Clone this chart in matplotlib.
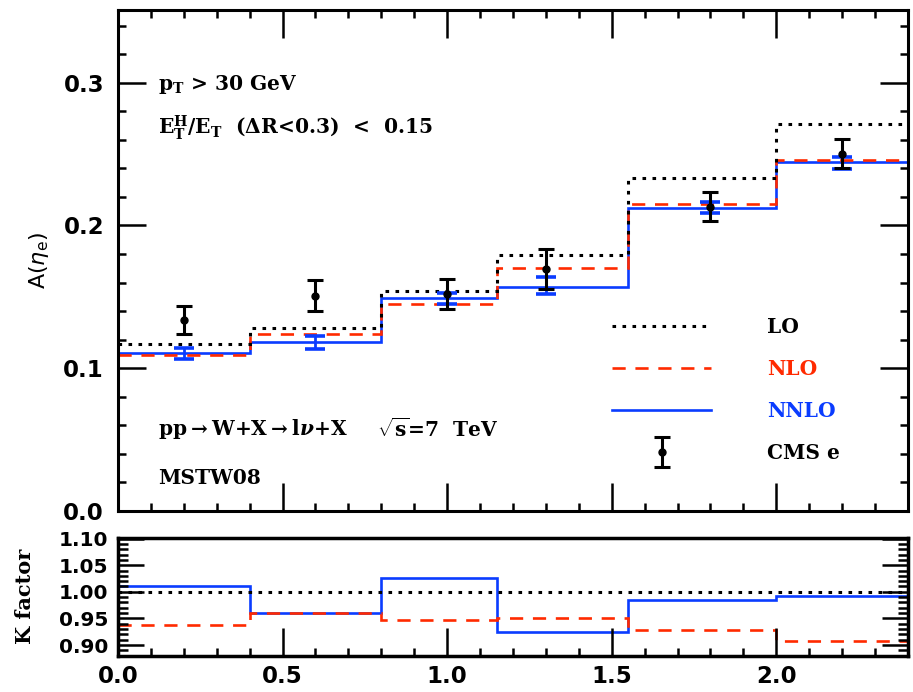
import numpy as np
import matplotlib
matplotlib.use("Agg")
import matplotlib.pyplot as plt
from matplotlib.ticker import MultipleLocator, FormatStrFormatter
from matplotlib.legend_handler import HandlerErrorbar

# eta bins and theory predictions, A(eta_e)
edges = [0.0, 0.4, 0.8, 1.15, 1.55, 2.0, 2.4]
lo = [0.117, 0.1285, 0.1542, 0.1794, 0.2331, 0.271]
nlo = [0.109, 0.1238, 0.1453, 0.170, 0.2151, 0.246]
nnlo = [0.1107, 0.1187, 0.149, 0.1572, 0.2123, 0.2446]

# NNLO uncertainty bars, placed at the data points
nnlo_err_c = [0.1106, 0.1183, 0.1488, 0.1578, 0.2125, 0.2441]
nnlo_err = [0.0039, 0.0046, 0.0040, 0.0060, 0.0039, 0.0042]

# CMS electron asymmetry
cms_x = [0.2, 0.6, 1.0, 1.3, 1.8, 2.2]
cms_y = [0.1338, 0.1509, 0.1521, 0.1694, 0.2133, 0.2502]
cms_err = [0.0100, 0.0108, 0.0107, 0.0140, 0.0100, 0.0101]

# K factors (lower panel)
k_lo = [1.0, 1.0, 1.0, 1.0, 1.0, 1.0]
k_nlo = [0.938, 0.961, 0.947, 0.950, 0.928, 0.9075]
k_nnlo = [1.0107, 0.961, 1.0263, 0.925, 0.9844, 0.993]

red = "#ff2a00"
blue = "#0a3cff"

plt.rcParams["lines.scale_dashes"] = False
plt.rcParams["mathtext.fontset"] = "custom"
plt.rcParams["mathtext.rm"] = "DejaVu Serif:bold"
plt.rcParams["mathtext.it"] = "DejaVu Serif:italic:bold"
plt.rcParams["mathtext.bf"] = "DejaVu Serif:bold"

serif = dict(family="DejaVu Serif", fontweight="bold", fontsize=14.5)

fig = plt.figure(figsize=(9.13, 6.92), dpi=100)
ax = fig.add_axes([0.1292, 0.2616, 0.8653, 0.724])
axk = fig.add_axes([0.1292, 0.0525, 0.8653, 0.170])

lw = 1.9
ax.stairs(nnlo, edges, baseline=None, color=blue, lw=lw, label="NNLO")
ax.stairs(nlo, edges, baseline=None, color=red, lw=lw, linestyle=(0, (9.5, 7)), label="NLO")
ax.stairs(lo, edges, baseline=None, color="black", lw=2.2, linestyle=(0, (2.6, 4.6)), label="LO")
ax.errorbar(cms_x, nnlo_err_c, yerr=nnlo_err, fmt="none", ecolor=blue,
            elinewidth=2.0, capsize=7, capthick=2.6)
cms = ax.errorbar(cms_x, cms_y, yerr=cms_err, fmt="o", color="black", ms=5,
                  elinewidth=2.2, capsize=5.5, capthick=2.2, label="CMS e")

ax.set_xlim(0, 2.4)
ax.set_ylim(0, 0.351)
ax.xaxis.set_major_locator(MultipleLocator(0.5))
ax.xaxis.set_minor_locator(MultipleLocator(0.1))
ax.yaxis.set_major_locator(MultipleLocator(0.1))
ax.yaxis.set_minor_locator(MultipleLocator(0.02))
ax.yaxis.set_major_formatter(FormatStrFormatter("%.1f"))
ax.tick_params(which="both", direction="in", top=True, right=True, width=1.8)
ax.tick_params(which="major", length=20, pad=10)
ax.tick_params(which="minor", length=6)
ax.tick_params(axis="x", labelbottom=False)
ax.tick_params(axis="y", labelsize=16.5)
for lab in ax.get_yticklabels():
    lab.set_fontweight("bold")
for sp in ax.spines.values():
    sp.set_linewidth(2.2)
ax.set_ylabel(r"A($\eta_{\rm e}$)", fontsize=16, labelpad=9, math_fontfamily="dejavusans")

ax.text(0.051, 0.852, r"$\mathrm{p_T}$ > 30 GeV", transform=ax.transAxes, va="center", **serif)
ax.text(0.051, 0.766, r"$\mathrm{E_T^H/E_T}$  ($\Delta$R<0.3)  <  0.15", transform=ax.transAxes,
        va="center", **serif)
ax.text(0.051, 0.164, r"pp$\rightarrow$W+X$\rightarrow$l$\nu$+X", transform=ax.transAxes,
        va="center", **serif)
ax.text(0.328, 0.164, r"$\sqrt{\rm s}$=7  TeV", transform=ax.transAxes, va="center", **serif)
ax.text(0.051, 0.066, "MSTW08", transform=ax.transAxes, va="center", **serif)

h, l = ax.get_legend_handles_labels()
order = [l.index(n) for n in ["LO", "NLO", "NNLO", "CMS e"]]
leg = ax.legend([h[i] for i in order], [l[i] for i in order],
                loc="upper left", bbox_to_anchor=(0.602, 0.424), frameon=False,
                prop=dict(family="DejaVu Serif", weight="bold", size=14.5),
                handlelength=4.95, handletextpad=2.75, labelspacing=1.1,
                handler_map={type(cms): HandlerErrorbar(yerr_size=0.75)})
for txt, c in zip(leg.get_texts(), ["black", red, blue, "black"]):
    txt.set_color(c)

# lower panel
axk.stairs(k_nnlo, edges, baseline=None, color=blue, lw=lw)
axk.stairs(k_nlo, edges, baseline=None, color=red, lw=lw, linestyle=(0, (9.5, 7)))
axk.stairs(k_lo, edges, baseline=None, color="black", lw=2.2, linestyle=(0, (2.6, 4.6)))
axk.set_xlim(0, 2.4)
axk.set_ylim(0.88, 1.101)
axk.xaxis.set_major_locator(MultipleLocator(0.5))
axk.xaxis.set_minor_locator(MultipleLocator(0.1))
axk.yaxis.set_major_locator(MultipleLocator(0.05))
axk.yaxis.set_minor_locator(MultipleLocator(0.01))
axk.xaxis.set_major_formatter(FormatStrFormatter("%.1f"))
axk.yaxis.set_major_formatter(FormatStrFormatter("%.2f"))
axk.tick_params(which="both", direction="in", top=False, right=True, width=1.8)
axk.tick_params(axis="x", labelsize=16.5)
axk.tick_params(axis="y", labelsize=14.5)
axk.tick_params(axis="x", which="major", length=20, pad=7)
axk.tick_params(axis="y", which="major", length=19, pad=7)
axk.tick_params(axis="x", which="minor", length=6)
axk.tick_params(axis="y", which="minor", length=7)
for lab in axk.get_xticklabels() + axk.get_yticklabels():
    lab.set_fontweight("bold")
for sp in axk.spines.values():
    sp.set_linewidth(2.5)
axk.set_ylabel("K factor", family="DejaVu Serif", fontweight="bold", fontsize=15, labelpad=17)

fig.savefig("out.png", dpi=100)
